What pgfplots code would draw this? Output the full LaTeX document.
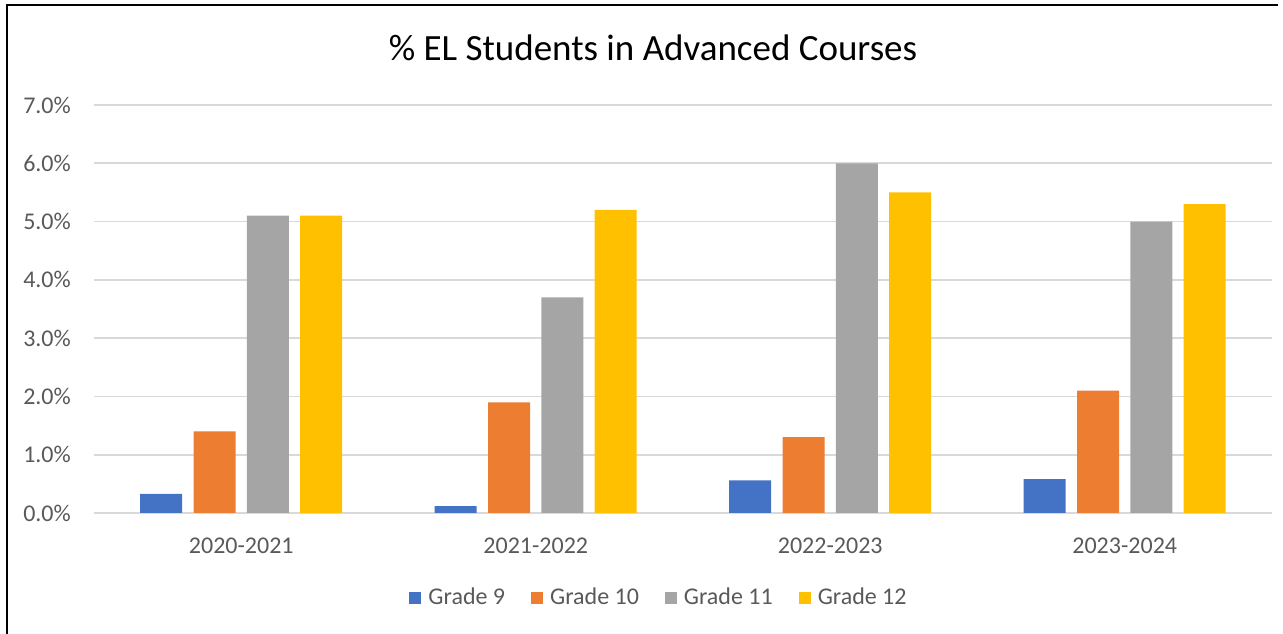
\documentclass[border=0pt]{standalone}
\usepackage{pgfplots}
\pgfplotsset{compat=1.18}
\usepackage{fontspec}
\setmainfont{Carlito}
\definecolor{c9}{HTML}{4472C4}
\definecolor{c10}{HTML}{ED7D31}
\definecolor{c11}{HTML}{A5A5A5}
\definecolor{c12}{HTML}{FFC000}
\definecolor{txt}{HTML}{595959}
\definecolor{gridc}{HTML}{D9D9D9}
\pgfplotsset{sq legend/.style={legend image code/.code={\fill[##1] (0pt,1pt) rectangle (12pt,13pt);}}}
\begin{document}
\begin{tikzpicture}[x=1pt,y=1pt]
\useasboundingbox (0,0) rectangle (1283,634);
\draw[line width=2pt,black] (7,0) -- (7,629) -- (1278,629);
\node[anchor=base,font=\fontsize{37}{44}\selectfont,text=black] at (653,573) {\% EL Students in Advanced Courses};
\begin{axis}[
  at={(94pt,121pt)}, anchor=south west,
  scale only axis, width=1178pt, height=408pt,
  xmin=-0.5, xmax=3.5, ymin=0, ymax=7,
  axis line style={draw=none},
  xtick={0,1,2,3},
  xticklabels={2020-2021,2021-2022,2022-2023,2023-2024},
  ytick={0,1,2,3,4,5,6,7},
  ymajorgrids, grid style={gridc,line width=1.7pt},
  major tick length=0pt,
  /pgf/number format/.cd, fixed, fixed zerofill, precision=1, assume math mode=true,
  /pgfplots/.cd,
  yticklabel={\pgfmathprintnumber{\tick}\%},
  yticklabel style={font=\fontsize{24}{28}\selectfont, text=txt, anchor=east, inner sep=0pt, xshift=-23pt},
  xticklabel style={font=\fontsize{24}{28}\selectfont, text=txt, anchor=center, inner sep=0pt, yshift=-33pt},
  legend columns=4,
  legend style={at={(0.4788,-0.206)}, anchor=center, draw=none, fill=none,
    font=\fontsize{24}{28}\selectfont, text=txt, inner sep=0pt,
    nodes={inner sep=0pt, anchor=base west},
    /tikz/every odd column/.append style={column sep=7pt},
    /tikz/every even column/.append style={column sep=26pt}},
  legend cell align=left,
]
\addplot[ybar, bar width=42pt, bar shift=-80pt, fill=c9, draw=none, sq legend] coordinates {(0,0.33) (1,0.12) (2,0.56) (3,0.58)};
\addplot[ybar, bar width=42pt, bar shift=-26.67pt, fill=c10, draw=none, sq legend] coordinates {(0,1.4) (1,1.9) (2,1.3) (3,2.1)};
\addplot[ybar, bar width=42pt, bar shift=26.67pt, fill=c11, draw=none, sq legend] coordinates {(0,5.1) (1,3.7) (2,6.0) (3,5.0)};
\addplot[ybar, bar width=42pt, bar shift=80pt, fill=c12, draw=none, sq legend] coordinates {(0,5.1) (1,5.2) (2,5.5) (3,5.3)};
\legend{Grade 9,Grade 10,Grade 11,Grade 12}
\end{axis}
\end{tikzpicture}
\end{document}
